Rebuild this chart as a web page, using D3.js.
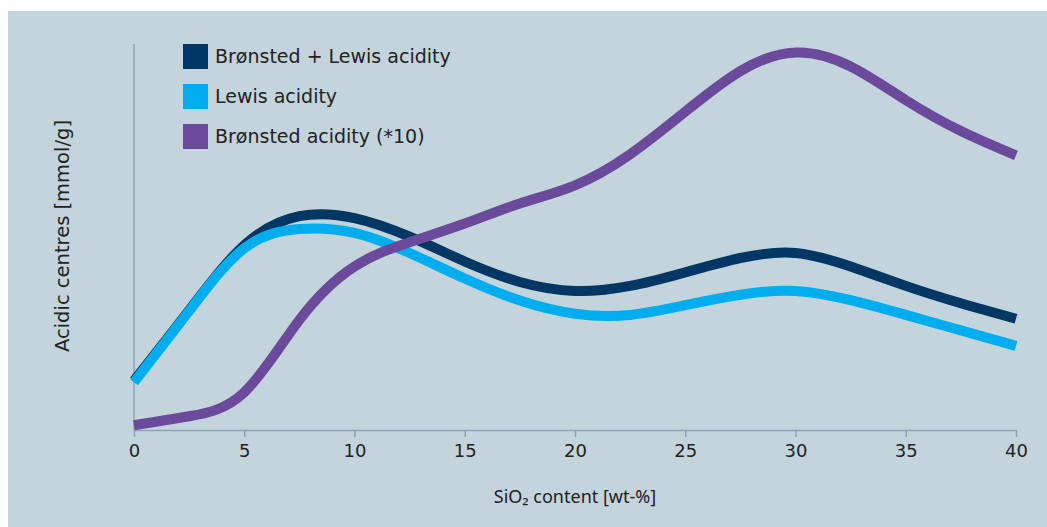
<!DOCTYPE html>
<html>
<head>
<meta charset="utf-8">
<script src="https://cdn.jsdelivr.net/npm/d3@7"></script>
<style>
  body { margin: 0; background: #fff; }
  svg { display: block; font-family: "DejaVu Sans", sans-serif; }
</style>
</head>
<body>
<svg id="chart" width="1047" height="527"></svg>
<script>
const width = 1047;
const height = 527;
const margin = { top: 44, right: 31, bottom: 97, left: 134 };

// SiO2 content [wt-%]
const sio2 = [0, 2.5, 5, 7.5, 10, 12.5, 15, 17.5, 20, 22.5, 25, 27.5, 30, 32.5, 35, 37.5, 40];
// acidic centres, arbitrary units
const bronstedLewis = [1.30, 3.12, 4.80, 5.55, 5.50, 5.02, 4.38, 3.85, 3.62, 3.75, 4.10, 4.47, 4.60, 4.25, 3.75, 3.30, 2.90];
const lewis = [1.26, 3.10, 4.72, 5.22, 5.12, 4.60, 3.94, 3.37, 3.03, 3.00, 3.25, 3.52, 3.62, 3.38, 3.00, 2.60, 2.20];
const bronsted = [0.15, 0.38, 1.00, 2.87, 4.25, 4.88, 5.36, 5.88, 6.35, 7.15, 8.25, 9.30, 9.78, 9.42, 8.55, 7.75, 7.12];
const xTicks = [0, 5, 10, 15, 20, 25, 30, 35, 40];

const seriesNames = ["Brønsted + Lewis acidity", "Lewis acidity", "Brønsted acidity (*10)"];
const seriesColors = ["#003764", "#00aeef", "#6b4a9c"];
const seriesValues = [bronstedLewis, lewis, bronsted];

const svg = d3.select("#chart");

// panel background
svg.append("rect")
    .attr("x", 8)
    .attr("y", 11)
    .attr("width", width - 8)
    .attr("height", height - 11)
    .attr("fill", "#c4d4dc");

const xScale = d3.scaleLinear()
    .domain([0, 40])
    .range([margin.left, width - margin.right]);

const yScale = d3.scaleLinear()
    .domain([0, 10])
    .range([height - margin.bottom + 1, margin.top]);

// y axis line only
svg.append("line")
    .attr("x1", margin.left)
    .attr("x2", margin.left)
    .attr("y1", margin.top)
    .attr("y2", height - margin.bottom)
    .attr("stroke", "#8ba2ba")
    .attr("stroke-width", 1.5);

// x axis
const xAxis = svg.append("g")
    .attr("transform", `translate(0, ${height - margin.bottom})`)
    .call(d3.axisBottom(xScale).tickValues(xTicks).tickSize(7).tickPadding(7).tickSizeOuter(0));
xAxis.select(".domain").attr("stroke", "#8ba2ba").attr("stroke-width", 1.5);
xAxis.selectAll(".tick line").attr("stroke", "#8ba2ba").attr("stroke-width", 1.5);
xAxis.selectAll(".tick text")
    .attr("fill", "#222")
    .style("font-size", "18px")
    .style("font-family", "DejaVu Sans, sans-serif");

// lines
const line = d3.line()
    .x(d => xScale(d[0]))
    .y(d => yScale(d[1]))
    .curve(d3.curveNatural);

seriesValues.forEach((vals, i) => {
    svg.append("path")
        .datum(sio2.map((x, j) => [x, vals[j]]))
        .attr("d", line)
        .attr("fill", "none")
        .attr("stroke", seriesColors[i])
        .attr("stroke-width", 10)
        .attr("stroke-linecap", "butt");
});

// legend
const legend = svg.append("g").attr("transform", "translate(183, 44)");
seriesNames.forEach((name, i) => {
    legend.append("rect")
        .attr("x", 0)
        .attr("y", i * 40)
        .attr("width", 25)
        .attr("height", 25)
        .attr("fill", seriesColors[i]);
    legend.append("text")
        .attr("x", 32)
        .attr("y", i * 40 + 12.5)
        .attr("dy", "0.35em")
        .style("font-size", "19px")
        .style("fill", "#222")
        .text(name);
});

// x-axis label
svg.append("text")
    .attr("x", 575)
    .attr("y", 497)
    .attr("dy", "0.35em")
    .style("text-anchor", "middle")
    .style("font-size", "18px")
    .style("font-family", "Noto Sans, sans-serif")
    .style("fill", "#222")
    .text("SiO₂ content [wt-%]");

// y-axis label
svg.append("text")
    .attr("transform", "rotate(-90)")
    .attr("x", -236)
    .attr("y", 62)
    .attr("dy", "0.35em")
    .style("text-anchor", "middle")
    .style("font-size", "19.5px")
    .style("fill", "#222")
    .text("Acidic centres [mmol/g]");
</script>
</body>
</html>
